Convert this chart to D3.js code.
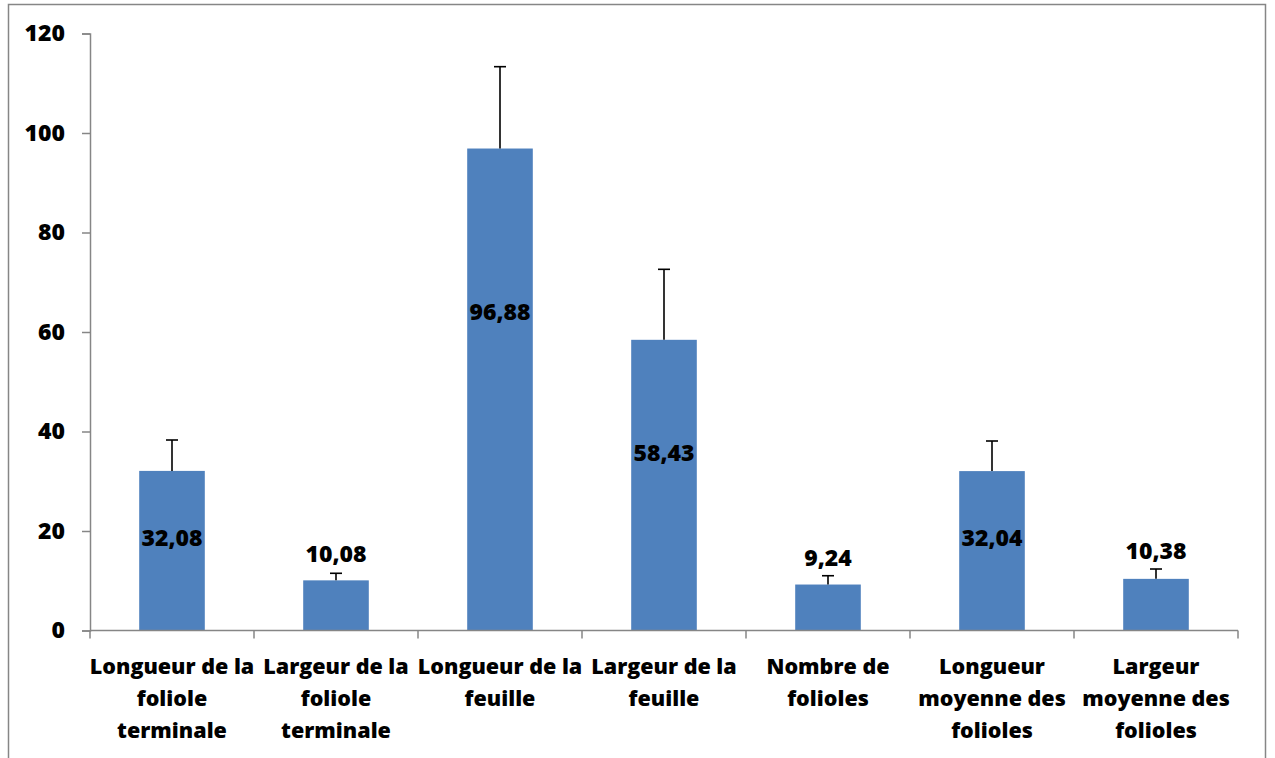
<!DOCTYPE html>
<html><head><meta charset="utf-8">
<script src="https://cdn.jsdelivr.net/npm/d3@7"></script>
<style>body{margin:0;background:#fff}svg{display:block}text{font-family:"Open Sans",Lato,sans-serif;font-weight:800;fill:#000}</style>
</head><body>
<script>
const categories = [
  ["Longueur de la","foliole","terminale"],
  ["Largeur de la","foliole","terminale"],
  ["Longueur de la","feuille"],
  ["Largeur de la","feuille"],
  ["Nombre de","folioles"],
  ["Longueur","moyenne des","folioles"],
  ["Largeur","moyenne des","folioles"]
];
const values = [32.08, 10.08, 96.88, 58.43, 9.24, 32.04, 10.38];
const errors = [6.21, 1.42, 16.45, 14.17, 1.77, 6.05, 1.98];
const labelAt = [18.8, 15.6, 64.2, 35.9, 14.8, 18.7, 16.2];
const valueLabels = ["32,08","10,08","96,88","58,43","9,24","32,04","10,38"];
const yTicks = [0, 20, 40, 60, 80, 100, 120];

const W = 1275, H = 758;
const FONT = "'Open Sans', Lato, sans-serif";
const svg = d3.select("body").append("svg").attr("width", W).attr("height", H);
svg.append("rect").attr("x", 8.5).attr("y", 4.5).attr("width", 1257).attr("height", 800)
  .attr("fill", "none").attr("stroke", "#868686").attr("stroke-width", 1.5);

const x0 = 90, x1 = 1238, yTop = 33.5, yBot = 630.5;
const x = d3.scaleBand().domain(d3.range(values.length)).range([x0, x1]).paddingInner(0).paddingOuter(0);
const y = d3.scaleLinear().domain([0, 120]).range([yBot, yTop]);
const bw = x.bandwidth() * 0.4;
const cx = i => x(i) + x.bandwidth() / 2;

// y axis
const ya = svg.append("g").attr("transform", `translate(${x0},0)`)
  .call(d3.axisLeft(y).tickValues(yTicks).tickSize(8).tickPadding(17).tickFormat(d3.format("d")));
ya.select(".domain").attr("stroke", "#868686").attr("stroke-width", 1.5);
ya.selectAll(".tick line").attr("stroke", "#868686").attr("stroke-width", 1.5);
ya.selectAll(".tick text").attr("font-size", 23).attr("font-family", FONT).attr("font-weight", 800).attr("fill", "#000");

// bars
svg.selectAll("rect.bar").data(values).join("rect").attr("class", "bar")
  .attr("x", (d, i) => cx(i) - bw / 2).attr("width", bw)
  .attr("y", d => y(d)).attr("height", d => y(0) - y(d))
  .attr("fill", "#4F81BD");

// error bars (plus only)
const eg = svg.append("g").attr("stroke", "#000").attr("stroke-width", 1.6);
values.forEach((v, i) => {
  eg.append("line").attr("x1", cx(i)).attr("x2", cx(i)).attr("y1", y(v)).attr("y2", y(v + errors[i]));
  eg.append("line").attr("x1", cx(i) - 6).attr("x2", cx(i) + 6).attr("y1", y(v + errors[i])).attr("y2", y(v + errors[i]));
});

// x axis
const xa = svg.append("g");
xa.append("line").attr("x1", x0).attr("x2", x1).attr("y1", yBot).attr("y2", yBot).attr("stroke", "#868686").attr("stroke-width", 1.5);
d3.range(values.length + 1).forEach(i => {
  const xx = i < values.length ? x(i) : x1;
  xa.append("line").attr("x1", xx).attr("x2", xx).attr("y1", yBot).attr("y2", yBot + 8).attr("stroke", "#868686").attr("stroke-width", 1.5);
});

// value labels
svg.selectAll("text.val").data(values).join("text").attr("class", "val")
  .attr("x", (d, i) => cx(i)).attr("y", (d, i) => y(labelAt[i]))
  .attr("text-anchor", "middle").attr("dominant-baseline", "central")
  .attr("font-size", 23).text((d, i) => valueLabels[i]);

// category labels
categories.forEach((lines, i) => {
  const t = svg.append("text").attr("text-anchor", "middle").attr("font-size", 21.5);
  lines.forEach((ln, j) => {
    t.append("tspan").attr("x", cx(i)).attr("y", 665 + j * 32).attr("dominant-baseline", "central").text(ln);
  });
});
</script>
</body></html>
